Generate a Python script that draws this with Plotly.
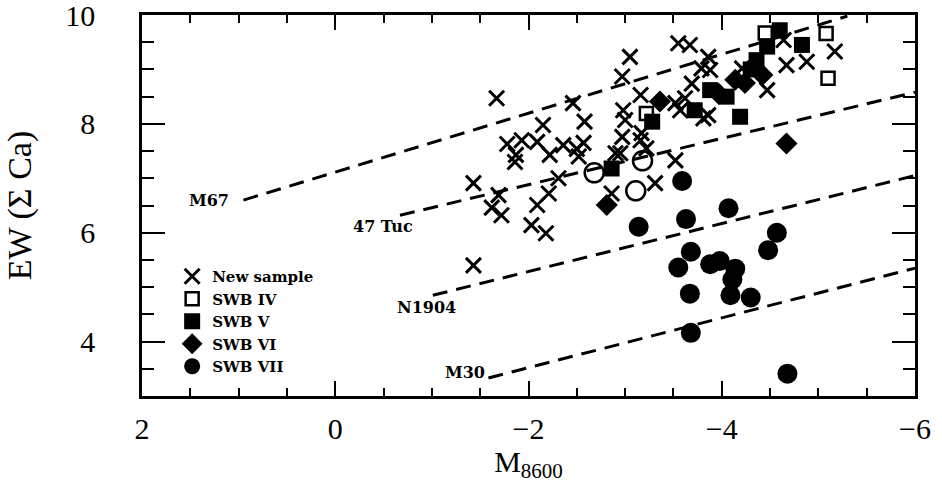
import plotly.graph_objects as go

# ---- data (M8600, EW(Sigma Ca)) ----
new_x = [-1.43, -1.43, -1.67, -1.69, -1.62, -1.72, -1.78, -1.93, -2.09, -1.87, -1.86,
         -2.15, -2.22, -2.36, -2.50, -2.57, -2.46, -2.58, -2.09, -2.21, -2.31, -2.03,
         -2.18, -2.52, -3.05, -2.97, -3.16, -2.98, -3.00, -2.97, -3.17, -3.16, -3.22,
         -2.90, -3.52, -3.31, -3.55, -3.67, -3.86, -3.79, -3.88, -3.69, -3.52, -3.62,
         -3.57, -3.81, -3.86, -4.64, -4.21, -4.67, -4.88, -5.17, -4.47, -2.86, -2.95]
new_y = [6.91, 5.40, 8.47, 6.69, 6.46, 6.32, 7.63, 7.70, 7.67, 7.43, 7.30,
         7.98, 7.43, 7.61, 7.54, 7.65, 8.38, 8.04, 6.51, 6.72, 7.00, 6.14,
         5.99, 7.40, 9.23, 8.87, 8.53, 8.25, 8.07, 7.76, 7.83, 7.70, 7.55,
         7.46, 7.33, 6.91, 9.48, 9.45, 9.23, 9.02, 8.99, 8.74, 8.38, 8.47,
         8.25, 8.10, 8.16, 9.54, 9.02, 9.08, 9.14, 9.33, 8.62, 6.72, 7.46]

swb4_x = [-4.45, -5.08, -5.10, -3.22]
swb4_y = [9.67, 9.66, 8.84, 8.19]

swb5_x = [-4.60, -4.83, -4.47, -4.36, -4.30, -3.88, -4.05, -3.72, -4.19, -3.28, -2.86]
swb5_y = [9.72, 9.45, 9.42, 9.17, 9.00, 8.62, 8.50, 8.25, 8.13, 8.04, 7.18]

swb6_x = [-3.36, -2.81, -4.67, -4.14, -4.24, -4.42, -3.97]
swb6_y = [8.41, 6.51, 7.64, 8.81, 8.75, 8.90, 8.55]

swb7_x = [-3.59, -4.07, -3.14, -3.63, -4.57, -4.48, -3.68, -3.55, -3.88, -3.98,
          -4.14, -4.11, -3.67, -4.09, -4.30, -3.68, -4.68]
swb7_y = [6.95, 6.45, 6.11, 6.25, 6.00, 5.68, 5.65, 5.36, 5.42, 5.48,
          5.34, 5.14, 4.88, 4.85, 4.81, 4.16, 3.41]

other_x = [-2.68, -3.11, -3.18]
other_y = [7.10, 6.77, 7.32]

# isochrone lines: names, endpoints
line_names = ["M67", "47 Tuc", "N1904", "M30"]
line_x = [[0.95, -5.30], [-0.67, -6.0], [-1.01, -6.0], [-1.585, -6.0]]
line_y = [[6.60, 9.98], [6.32, 8.58], [4.85, 7.05], [3.33, 5.35]]
label_x = [1.31, -0.49, -0.945, -1.344]
label_y = [6.60, 6.11, 4.63, 3.43]

x_ticks = [2, 0, -2, -4, -6]
y_ticks = [4, 6, 8, 10]

fig = go.Figure()

for nm, lx, ly in zip(line_names, line_x, line_y):
    fig.add_trace(go.Scatter(x=lx, y=ly, mode="lines", showlegend=False,
                             line=dict(color="black", width=3, dash="15px,9px"),
                             hoverinfo="skip"))

fig.add_trace(go.Scatter(x=other_x, y=other_y, mode="markers", showlegend=False,
                         marker=dict(symbol="circle-open", size=19, color="black",
                                     line=dict(width=2.5, color="black"))))
fig.add_trace(go.Scatter(x=new_x, y=new_y, mode="markers", name="New sample",
                         marker=dict(symbol="x-thin-open", size=15, color="black",
                                     line=dict(width=3, color="black"))))
fig.add_trace(go.Scatter(x=swb4_x, y=swb4_y, mode="markers", name="SWB IV",
                         marker=dict(symbol="square-open", size=13, color="black",
                                     line=dict(width=2.5, color="black"))))
fig.add_trace(go.Scatter(x=swb5_x, y=swb5_y, mode="markers", name="SWB V",
                         marker=dict(symbol="square", size=16, color="black", line=dict(width=0))))
fig.add_trace(go.Scatter(x=swb6_x, y=swb6_y, mode="markers", name="SWB VI",
                         marker=dict(symbol="diamond", size=17, color="black", line=dict(width=0))))
fig.add_trace(go.Scatter(x=swb7_x, y=swb7_y, mode="markers", name="SWB VII",
                         marker=dict(symbol="circle", size=20, color="black", line=dict(width=0))))

for nm, tx, ty in zip(line_names, label_x, label_y):
    fig.add_annotation(x=tx, y=ty, text=nm, showarrow=False, xanchor="center", yanchor="middle",
                       font=dict(family="DejaVu Serif", size=16, color="black", weight="bold"))

axis_common = dict(showgrid=False, zeroline=False, showline=True, linecolor="black", linewidth=2.5,
                   mirror="ticks", ticks="inside", tickcolor="black", tickwidth=2, automargin=False,
                   ticklabeloverflow="allow",
                   tickfont=dict(family="Liberation Serif", size=30, color="black"))

fig.update_xaxes(range=[2.0001, -6.0001], tickmode="array", tickvals=x_ticks, ticklen=15,
                 minor=dict(dtick=0.5, tick0=0, ticks="inside", ticklen=8, tickwidth=2, tickcolor="black"),
                 title=dict(text="M<sub>8600</sub>", font=dict(family="Liberation Serif", size=30, color="black"),
                            standoff=3),
                 ticklabelstandoff=4, **axis_common)
fig.update_yaxes(range=[2.9999, 10.0001], tickmode="array", tickvals=y_ticks, ticklen=23,
                 minor=dict(dtick=0.5, tick0=0, ticks="inside", ticklen=12, tickwidth=2, tickcolor="black"),
                 title=dict(text="EW (\u03a3 Ca)", font=dict(family="Liberation Serif", size=34, color="black"),
                            standoff=24),
                 ticklabelstandoff=38, **axis_common)

fig.update_layout(
    width=942, height=486,
    margin=dict(l=142, r=27, t=15, b=90),
    paper_bgcolor="white", plot_bgcolor="white",
    legend=dict(x=0.039, y=0.357, xanchor="left", yanchor="top", bgcolor="rgba(0,0,0,0)",
                font=dict(family="DejaVu Serif", size=15, color="black", weight="bold"),
                itemsizing="trace", tracegroupgap=0),
    showlegend=True,
)

fig.write_html("out.html", config={"displayModeBar": False},
               post_script="document.body.style.margin='0';")
